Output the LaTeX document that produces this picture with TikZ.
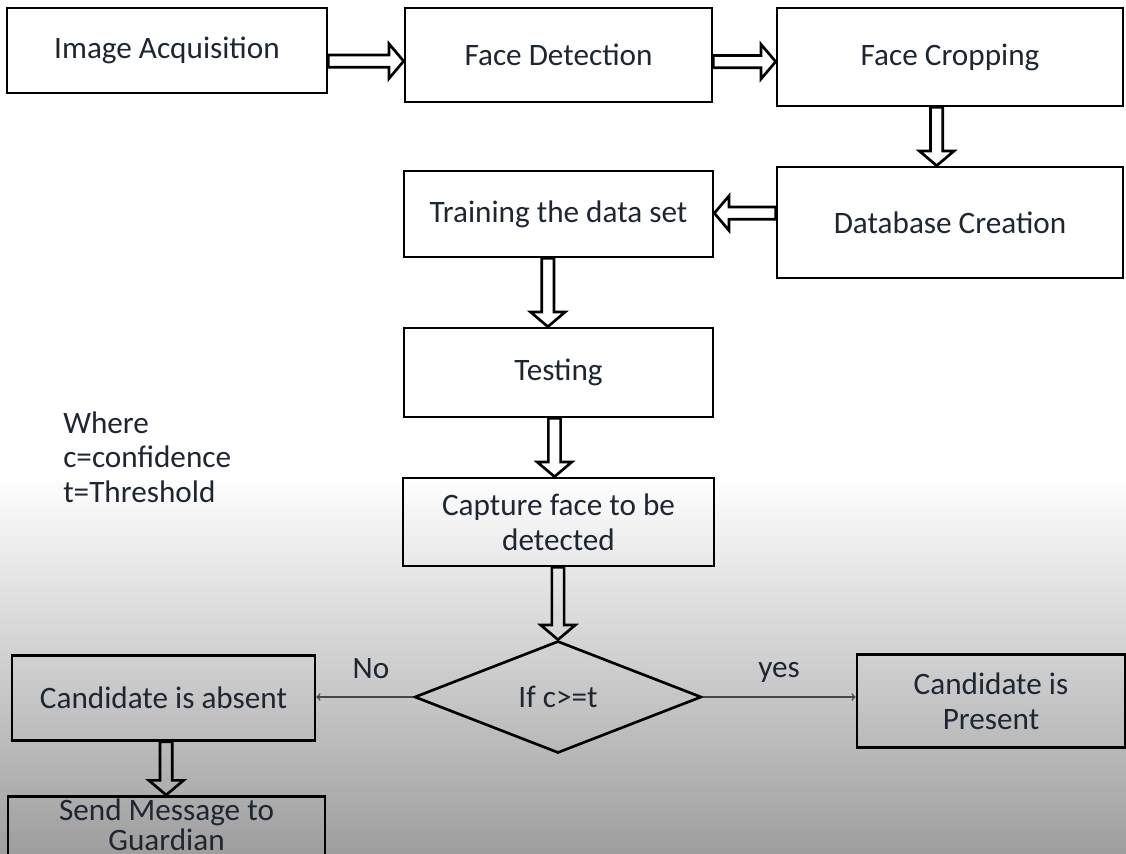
\documentclass[tikz,border=0pt]{standalone}
\usepackage{fontspec}
\setmainfont{Carlito}
\usetikzlibrary{shapes.geometric,calc}

\definecolor{inkc}{RGB}{30,38,50}
\definecolor{thinc}{RGB}{70,70,70}

\tikzset{
  stepbox/.style 2 args={draw=black, line width=2pt, minimum width=0.75pt*#1, minimum height=0.75pt*#2,
    inner sep=2pt, align=center, text=inkc, font=\fontsize{23.4}{26}\selectfont},
  decbox/.style={draw=black, line width=2pt, shape=diamond, aspect=2.5, inner sep=0pt,
    minimum width=0.75pt*287, minimum height=0.75pt*112, text=inkc, font=\fontsize{23.4}{26}\selectfont},
  lbl/.style={inner sep=0pt, text=inkc, font=\fontsize{23.4}{26}\selectfont},
  hollow/.style={draw=black, line width=2pt, line join=miter},
  thinarrow/.style={draw=thinc, line width=1.1pt, ->},
}

% block arrow from #1 to #2
\newcommand{\hollowarrow}[2]{%
  \draw[hollow] let \p1=#1, \p2=#2, \n1={atan2(\y2-\y1,\x2-\x1)} in
    ($(\p1)+(\n1+90:4.6pt)$) -- ($(\p2)+(\n1+180:11pt)+(\n1+90:4.6pt)$)
    -- ($(\p2)+(\n1+180:11pt)+(\n1+90:13pt)$) -- (\p2)
    -- ($(\p2)+(\n1+180:11pt)+(\n1-90:13pt)$) -- ($(\p2)+(\n1+180:11pt)+(\n1-90:4.6pt)$)
    -- ($(\p1)+(\n1-90:4.6pt)$) -- cycle;
}

\begin{document}
\begin{tikzpicture}[x=0.75pt,y=-0.75pt]
\useasboundingbox (0,0) rectangle (1126,853);

% background
\fill[white] (0,0) rectangle (1126,853);
\shade[top color=white, bottom color=gray!76] (0,475) rectangle (1126,853);

% steps
\node[stepbox={320}{85}] (acq) at (167,50.5) {Image Acquisition};
\node[stepbox={307}{94}] (det) at (558.5,55) {Face Detection};
\node[stepbox={346}{98}] (crop) at (950,57) {Face Cropping};
\node[stepbox={346}{111}] (dbase) at (950,222.5) {Database Creation};
\node[stepbox={309}{86}] (train) at (558.5,214) {Training the data set};
\node[stepbox={309}{89}] (test) at (558.5,372.5) {Testing};
\node[stepbox={311}{88}] (capt) at (558.5,522) {Capture face to be\\detected};
\node[decbox] (dec) at (558,697) {If c>=t};
\node[stepbox={303}{85}] (absent) at (163.5,698) {Candidate is absent};
\node[stepbox={317}{40}, anchor=north, text depth=24pt, font=\fontsize{23.4}{22}\selectfont] (send) at (166.5,795) {Send Message to\\Guardian};
\node[stepbox={268}{93}] (pres) at (991,701) {Candidate is\\Present};

% labels
\node[lbl] (lno) at (371,669) {No};
\node[lbl] (lyes) at (779,672) {yes};
\node[lbl, anchor=west, align=left] (legend) at (63,457) {Where\\c=confidence\\t=Threshold};

% block arrows
\coordinate (a1) at ([yshift=-8pt]acq.east);
\hollowarrow{(a1)}{(a1 -| det.west)}
\coordinate (a2) at ([yshift=-5pt]det.east);
\hollowarrow{(a2)}{(a2 -| crop.west)}
\coordinate (a3) at ([xshift=-10pt]crop.south);
\hollowarrow{(a3)}{(a3 |- dbase.north)}
\coordinate (a4) at ([yshift=7pt]dbase.west);
\hollowarrow{(a4)}{(a4 -| train.east)}
\coordinate (a5) at ([xshift=-8pt]train.south);
\hollowarrow{(a5)}{(a5 |- test.north)}
\coordinate (a6) at ([xshift=-3pt]test.south);
\hollowarrow{(a6)}{(a6 |- capt.north)}
\hollowarrow{(capt.south -| dec.north)}{(dec.north)}
\coordinate (a8) at ([xshift=2pt]absent.south);
\hollowarrow{(a8)}{(a8 |- send.north)}

% decision outputs
\draw[thinarrow] (dec.west) -- (dec.west -| absent.east);
\draw[thinarrow] (dec.east) -- (dec.east -| pres.west);

\end{tikzpicture}
\end{document}
